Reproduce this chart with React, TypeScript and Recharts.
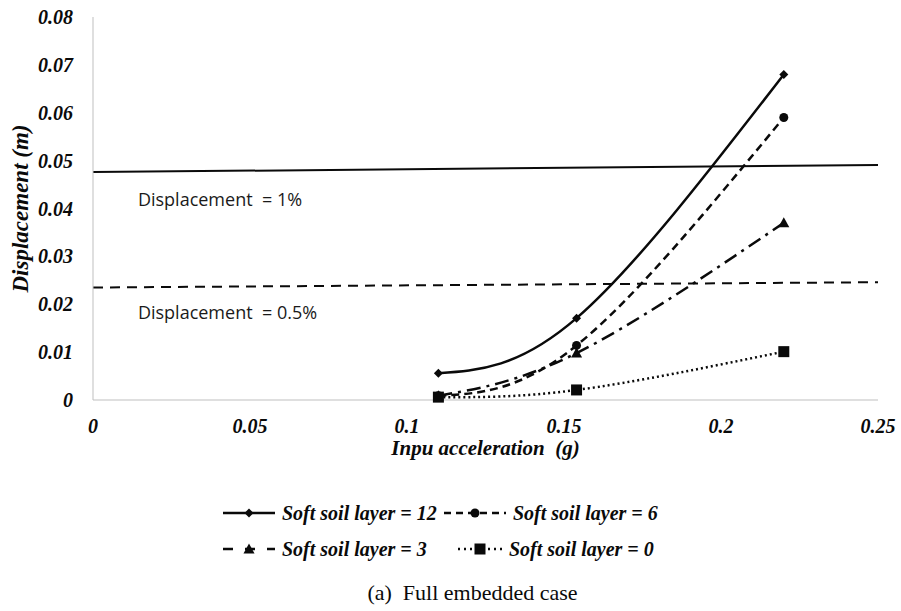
import React from 'react';
import { LineChart, Line, XAxis, YAxis, ReferenceDot } from 'recharts';

// Input acceleration (g) at which each case was evaluated
const accelX = [0.11, 0.154, 0.22];

// Peak displacement (m) per soft soil layer thickness
const soil12 = [0.0056, 0.0171, 0.068];
const soil6 = [0.0009, 0.0114, 0.059];
const soil3 = [0.0009, 0.0098, 0.037];
const soil0 = [0.0006, 0.0021, 0.0101];

// Allowable displacement limits, drawn across the full x range
const limitX = [0, 0.25];
const limit1pct = [0.0476, 0.0491];
const limit05pct = [0.0235, 0.0246];

const xTicks = [0, 0.05, 0.1, 0.15, 0.2, 0.25];
const yTicks = [0, 0.01, 0.02, 0.03, 0.04, 0.05, 0.06, 0.07, 0.08];

const seriesNames = [
  'Soft soil layer = 12',
  'Soft soil layer = 6',
  'Soft soil layer = 3',
  'Soft soil layer = 0',
];

const NBSP = '\u00a0';
const limitLabels = [`Displacement ${NBSP}= 1%`, `Displacement ${NBSP}= 0.5%`];
const xTitle = `Inpu acceleration ${NBSP}(g)`;
const yTitle = 'Displacement (m)';
const caption = `(a) ${NBSP}Full embedded case`;

const toPoints = (xs: number[], ys: number[]) => xs.map((x, i) => ({ x, y: ys[i] }));

const serif = "'Liberation Serif', Tinos, 'Times New Roman', Times, 'DejaVu Serif', serif";
const sans = "'Open Sans', 'Noto Sans', 'Liberation Sans', sans-serif";
const INK = '#0a0a0a';

type MarkerKind = 'diamond' | 'circle' | 'triangle' | 'square';

function Marker({ kind, cx, cy }: { kind: MarkerKind; cx: number; cy: number }) {
  if (kind === 'diamond') {
    const s = 4.5;
    return <path d={`M${cx},${cy - s} L${cx + s},${cy} L${cx},${cy + s} L${cx - s},${cy} Z`} fill={INK} />;
  }
  if (kind === 'circle') return <circle cx={cx} cy={cy} r={4.5} fill={INK} />;
  if (kind === 'triangle') {
    return <path d={`M${cx},${cy - 5.5} L${cx + 5.5},${cy + 4.5} L${cx - 5.5},${cy + 4.5} Z`} fill={INK} />;
  }
  return <rect x={cx - 5.5} y={cy - 5.5} width={11} height={11} fill={INK} />;
}

const makeDot = (kind: MarkerKind, name: string) => (props: any) => {
  const { cx, cy, index } = props;
  if (cx == null || cy == null) return <g key={`${name}-${index}`} />;
  return (
    <g key={`${name}-${index}`}>
      <Marker kind={kind} cx={cx} cy={cy} />
    </g>
  );
};

const seriesDefs = [
  { name: seriesNames[0], values: soil12, dash: undefined as string | undefined, marker: 'diamond' as MarkerKind },
  { name: seriesNames[1], values: soil6, dash: '8 5', marker: 'circle' as MarkerKind },
  { name: seriesNames[2], values: soil3, dash: '14 6 3 6', marker: 'triangle' as MarkerKind },
  { name: seriesNames[3], values: soil0, dash: '2 3', marker: 'square' as MarkerKind },
];

function LegendIcon({ dash, marker, width }: { dash?: string; marker: MarkerKind; width: number }) {
  return (
    <svg width={width} height={16} style={{ display: 'block' }}>
      <line x1={1} y1={8} x2={width - 1} y2={8} stroke={INK} strokeWidth={2.5} strokeDasharray={dash} />
      <Marker kind={marker} cx={width / 2} cy={8} />
    </svg>
  );
}

const legendCells = [
  { def: seriesDefs[0], left: 222, top: 503, iconW: 54, dash: undefined as string | undefined },
  { def: seriesDefs[1], left: 443, top: 503, iconW: 64, dash: '7 5' },
  { def: seriesDefs[2], left: 222, top: 539, iconW: 54, dash: '10 12' },
  { def: seriesDefs[3], left: 457, top: 539, iconW: 46, dash: '2 4' },
];

const boldItalic = { fill: INK, fontFamily: serif, fontWeight: 'bold', fontStyle: 'italic' } as const;
const limitLabelStyle = { fill: '#1a1a1a', fontFamily: sans, fontSize: 18 };

export default function App() {
  return (
    <div style={{ position: 'absolute', left: 0, top: 0, width: 901, height: 611, background: '#fff' }}>
      <LineChart width={901} height={611} margin={{ top: 17, right: 23, bottom: 141, left: 0 }}>
        <XAxis
          type="number"
          dataKey="x"
          domain={[0, 0.25]}
          ticks={xTicks}
          tickFormatter={(v: number) => String(v)}
          axisLine={{ stroke: '#bfbfbf', strokeWidth: 1 }}
          tickLine={false}
          tickSize={0}
          tickMargin={19}
          height={70}
          tick={{ ...boldItalic, fontSize: 20 }}
          label={{
            value: xTitle,
            position: 'insideBottom',
            offset: 15,
            style: { ...boldItalic, fontSize: 21 },
          }}
        />
        <YAxis
          type="number"
          domain={[0, 0.08]}
          ticks={yTicks}
          tickFormatter={(v: number) => (v === 0 ? '0' : v.toFixed(2))}
          axisLine={{ stroke: '#bfbfbf', strokeWidth: 1 }}
          tickLine={false}
          tickSize={0}
          tickMargin={20}
          width={93}
          tick={{ ...boldItalic, fontSize: 20 }}
          label={{
            value: yTitle,
            angle: -90,
            position: 'insideLeft',
            offset: 20,
            style: { ...boldItalic, textAnchor: 'middle', fontSize: 23 },
          }}
        />

        <Line
          data={toPoints(limitX, limit1pct)}
          dataKey="y"
          type="linear"
          stroke={INK}
          strokeWidth={2}
          dot={false}
          activeDot={false}
          isAnimationActive={false}
        />
        <Line
          data={toPoints(limitX, limit05pct)}
          dataKey="y"
          type="linear"
          stroke={INK}
          strokeWidth={2}
          strokeDasharray="10 7"
          dot={false}
          activeDot={false}
          isAnimationActive={false}
        />

        {seriesDefs.map((s) => (
          <Line
            key={s.name}
            name={s.name}
            data={toPoints(accelX, s.values)}
            dataKey="y"
            type="natural"
            stroke={INK}
            strokeWidth={2.5}
            strokeDasharray={s.dash}
            dot={makeDot(s.marker, s.name)}
            activeDot={false}
            isAnimationActive={false}
          />
        ))}

        <ReferenceDot
          x={0.0143}
          y={0.0418}
          r={0}
          fill="none"
          stroke="none"
          label={{ value: limitLabels[0], position: 'right', offset: 0, style: limitLabelStyle }}
        />
        <ReferenceDot
          x={0.0143}
          y={0.0182}
          r={0}
          fill="none"
          stroke="none"
          label={{ value: limitLabels[1], position: 'right', offset: 0, style: limitLabelStyle }}
        />
      </LineChart>

      {legendCells.map((c) => (
        <div
          key={c.def.name}
          style={{
            position: 'absolute',
            left: c.left,
            top: c.top,
            display: 'flex',
            alignItems: 'center',
            height: 20,
            fontFamily: serif,
            fontSize: 20,
            fontWeight: 'bold',
            fontStyle: 'italic',
            color: INK,
            whiteSpace: 'nowrap',
          }}
        >
          <LegendIcon dash={c.dash} marker={c.def.marker} width={c.iconW} />
          <span style={{ marginLeft: 6 }}>{c.def.name}</span>
        </div>
      ))}

      <div
        style={{
          position: 'absolute',
          left: 0,
          width: 945,
          top: 580,
          textAlign: 'center',
          fontFamily: serif,
          fontSize: 22,
          color: INK,
          whiteSpace: 'pre',
        }}
      >
        {caption}
      </div>
    </div>
  );
}
